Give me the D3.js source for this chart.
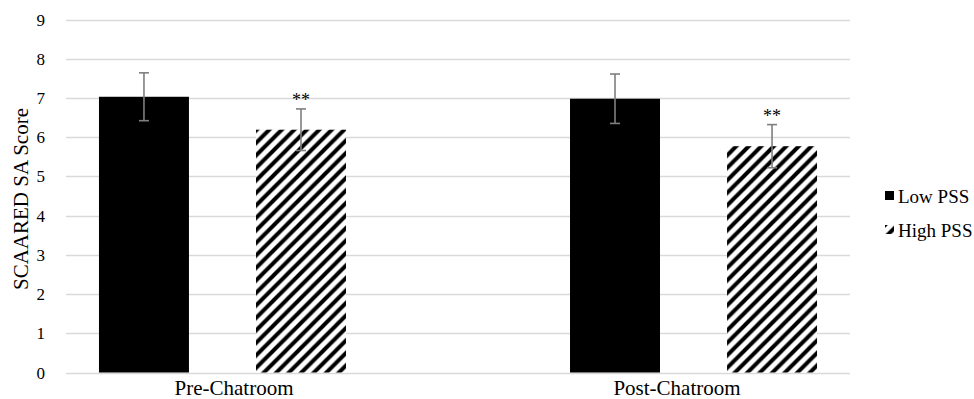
<!DOCTYPE html>
<html>
<head>
<meta charset="utf-8">
<script src="https://cdn.jsdelivr.net/npm/d3@7"></script>
<style>
  html, body { margin: 0; padding: 0; background: #fff; }
  svg text { font-family: "Liberation Serif", "Times New Roman", "DejaVu Serif", serif; }
</style>
</head>
<body>
<div id="chart"></div>
<script>
// Mean SCAARED social-anxiety scores by session and perceived-stress group
const categories = ["Pre-Chatroom", "Post-Chatroom"];
const seriesNames = ["Low PSS", "High PSS"];
const lowPSS = [7.03, 6.98];
const highPSS = [6.19, 5.77];
const lowPSSErr = [0.61, 0.63];
const highPSSErr = [0.53, 0.55];
const highPSSMarks = ["**", "**"];
const yTicks = [0, 1, 2, 3, 4, 5, 6, 7, 8, 9];
const yTitle = "SCAARED SA Score";

const width = 974, height = 399;
const plot = { left: 66, right: 850, top: 19.5, bottom: 372.5 };
const serif = "Liberation Serif, Times New Roman, serif";

const svg = d3.select("#chart").append("svg")
  .attr("width", width).attr("height", height)
  .style("display", "block");

// Diagonal hatch used for the High PSS bars
const defs = svg.append("defs");
defs.append("pattern")
  .attr("id", "hatch")
  .attr("patternUnits", "userSpaceOnUse")
  .attr("width", 12.5).attr("height", 12.5)
  .call(p => {
    p.append("rect").attr("width", 12.5).attr("height", 12.5).attr("fill", "#fff");
    p.append("path")
      .attr("d", "M-6.25,6.25 L6.25,-6.25 M0,12.5 L12.5,0 M6.25,18.75 L18.75,6.25")
      .attr("stroke", "#000").attr("stroke-width", 4);
  });

const y = d3.scaleLinear().domain([0, 9]).range([plot.bottom, plot.top]);
const x0 = d3.scaleBand().domain(categories).range([plot.left, plot.right])
  .paddingInner(0.4756).paddingOuter(0.07);
const x1 = d3.scaleBand().domain(seriesNames).range([0, x0.bandwidth()])
  .paddingInner(0.427);
const xLabel = d3.scalePoint().domain(categories).range([234, 677]);

const fills = { "Low PSS": "#000", "High PSS": "url(#hatch)" };

// Gridlines
svg.append("g")
  .selectAll("line").data(yTicks).join("line")
  .attr("x1", plot.left).attr("x2", plot.right)
  .attr("y1", d => Math.round(y(d)) + 0.5).attr("y2", d => Math.round(y(d)) + 0.5)
  .attr("stroke", "#d9d9d9").attr("stroke-width", 1.3);

// Y tick labels
svg.append("g")
  .selectAll("text").data(yTicks).join("text")
  .attr("x", 45).attr("y", d => y(d) + 6)
  .attr("text-anchor", "end")
  .attr("font-family", serif)
  .attr("font-size", 17).attr("fill", "#000")
  .text(d => d);

// Y axis title
svg.append("text")
  .attr("transform", `translate(28,199) rotate(-90)`)
  .attr("text-anchor", "middle")
  .attr("font-family", serif)
  .attr("font-size", 21).attr("fill", "#000")
  .text(yTitle);

// Bars
const rows = categories.map((c, i) => ({
  category: c,
  values: [
    { series: "Low PSS", value: lowPSS[i], err: lowPSSErr[i], mark: "" },
    { series: "High PSS", value: highPSS[i], err: highPSSErr[i], mark: highPSSMarks[i] }
  ]
}));

const groups = svg.append("g").selectAll("g").data(rows).join("g")
  .attr("transform", d => `translate(${x0(d.category)},0)`);

groups.selectAll("rect").data(d => d.values).join("rect")
  .attr("x", d => x1(d.series))
  .attr("y", d => y(d.value))
  .attr("width", x1.bandwidth())
  .attr("height", d => y(0) - y(d.value))
  .attr("fill", d => fills[d.series]);

// Error bars
const eb = groups.selectAll("g.err").data(d => d.values).join("g").attr("class", "err")
  .attr("transform", d => `translate(${x1(d.series) + x1.bandwidth() / 2},0)`)
  .attr("stroke", "#7f7f7f").attr("stroke-width", 1.6);
eb.append("line").attr("x1", 0).attr("x2", 0)
  .attr("y1", d => y(d.value + d.err)).attr("y2", d => y(d.value - d.err));
eb.append("line").attr("x1", -5).attr("x2", 5)
  .attr("y1", d => y(d.value + d.err)).attr("y2", d => y(d.value + d.err));
eb.append("line").attr("x1", -5).attr("x2", 5)
  .attr("y1", d => y(d.value - d.err)).attr("y2", d => y(d.value - d.err));

// Significance markers
groups.selectAll("text.sig").data(d => d.values.filter(v => v.mark)).join("text")
  .attr("class", "sig")
  .attr("x", d => x1(d.series) + x1.bandwidth() / 2)
  .attr("y", d => y(d.value + d.err) - 2.5)
  .attr("text-anchor", "middle")
  .attr("font-family", serif)
  .attr("font-size", 18).attr("fill", "#000")
  .text(d => d.mark);

// Category labels
svg.append("g").selectAll("text").data(categories).join("text")
  .attr("x", d => xLabel(d)).attr("y", 395)
  .attr("text-anchor", "middle")
  .attr("font-family", serif)
  .attr("font-size", 21).attr("fill", "#000")
  .text(d => d);

// Legend
const legend = svg.append("g").selectAll("g").data(seriesNames).join("g")
  .attr("transform", (d, i) => `translate(885,${191 + i * 34})`);
legend.append("rect")
  .attr("width", 9).attr("height", 9)
  .attr("fill", d => fills[d]);
legend.append("text")
  .attr("x", 13).attr("y", 11.5)
  .attr("font-family", serif)
  .attr("font-size", 19).attr("fill", "#000")
  .text(d => d);
</script>
</body>
</html>
